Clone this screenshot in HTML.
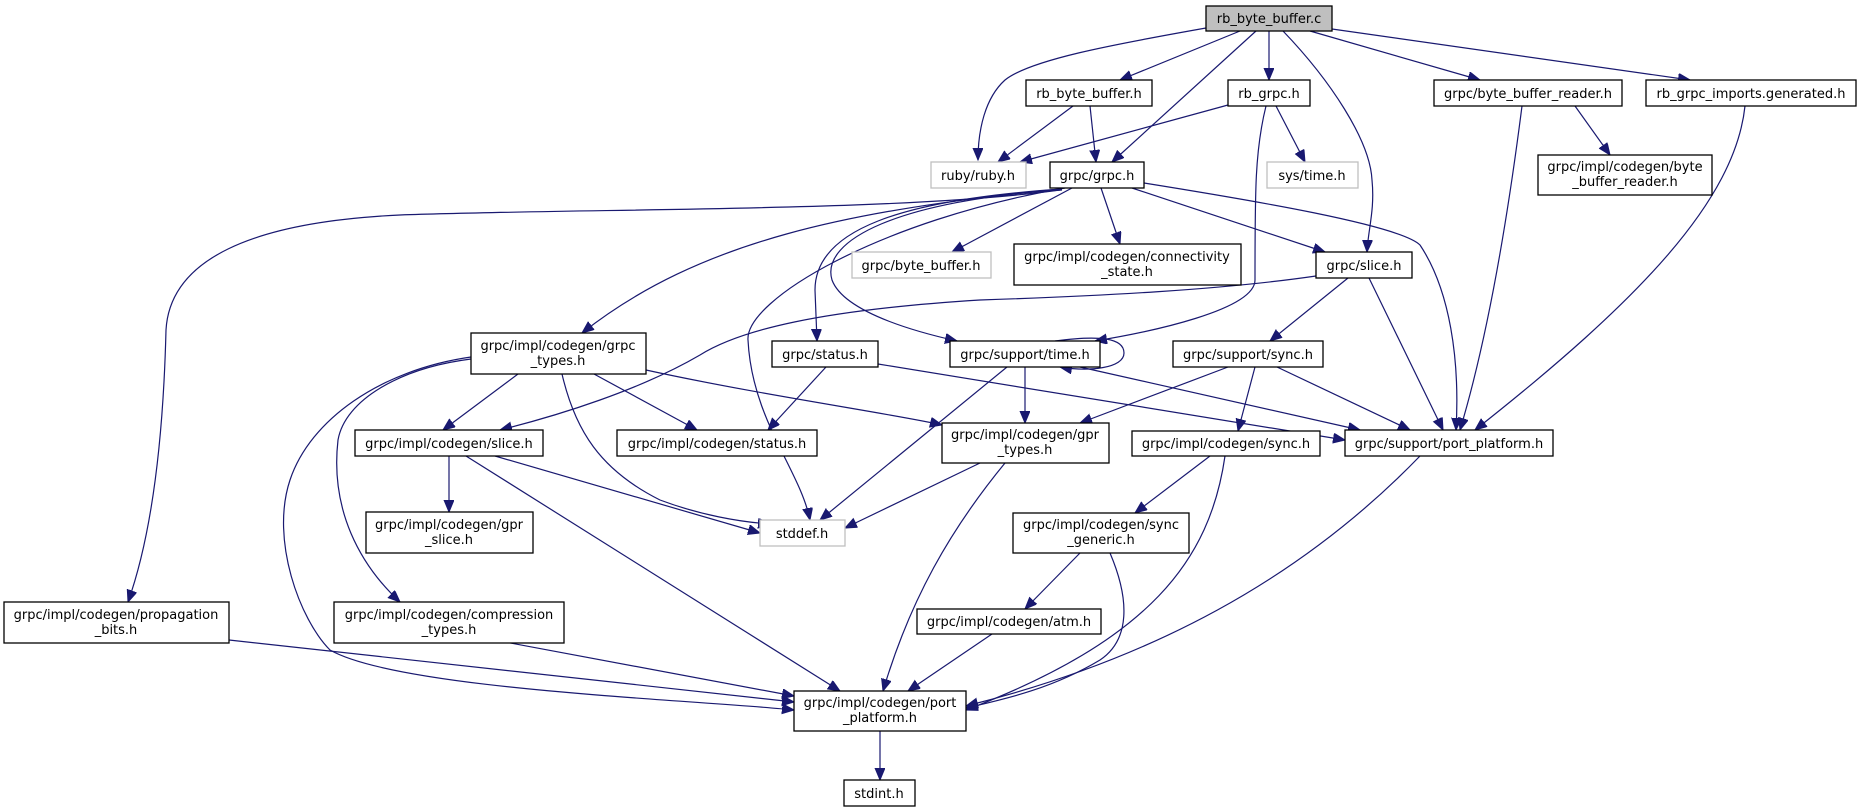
<!DOCTYPE html>
<html><head><meta charset="utf-8"><style>
html,body{margin:0;padding:0;background:#fff;}
svg{display:block;}
text{font-family:"DejaVu Sans","Liberation Sans",sans-serif;font-size:13px;fill:#000;text-anchor:middle;}
.n{fill:#fff;stroke:#000;stroke-width:1.3;}
.g{fill:#fff;stroke:#bfbfbf;stroke-width:1.3;}
.e{fill:none;stroke:#191970;stroke-width:1.2;marker-end:url(#a);}
</style></head><body>
<svg width="1861" height="812" viewBox="0 0 1861 812" xmlns="http://www.w3.org/2000/svg">
<defs><marker id="a" markerUnits="userSpaceOnUse" markerWidth="14" markerHeight="12" refX="12" refY="5" orient="auto"><path d="M0,0 L12,5 L0,10 z" fill="#191970" stroke="#191970"/></marker></defs>
<g>
<path class="e" d="M1206,28 C1110,45 1030,60 1005,80 C985,98 978,130 978,160"/>
<path class="e" d="M1240,31 L1120,80"/>
<path class="e" d="M1256,31 L1112,162"/>
<path class="e" d="M1269,31 L1269,80"/>
<path class="e" d="M1283,31 C1330,80 1370,140 1372,180 C1375,210 1368,230 1367,252"/>
<path class="e" d="M1310,31 L1480,80"/>
<path class="e" d="M1332,29 L1690,80"/>
<path class="e" d="M1073,106 L998,162"/>
<path class="e" d="M1090,106 L1096,162"/>
<path class="e" d="M1228,105 L1020,162"/>
<path class="e" d="M1276,106 L1305,162"/>
<path class="e" d="M1266,106 C1255,150 1255,190 1255,280 C1255,310 1150,332 1095,341"/>
<path class="e" d="M1060,190 C900,212 600,208 400,215 C250,222 170,260 166,330 C163,450 150,540 128,602"/>
<path class="e" d="M1060,189 C850,210 700,240 582,333"/>
<path class="e" d="M1065,188 C880,220 745,300 748,340 C752,420 800,470 810,520"/>
<path class="e" d="M1062,189 C900,200 815,230 815,290 L817,341"/>
<path class="e" d="M1062,190 C900,200 820,240 832,280 C845,315 930,335 957,341"/>
<path class="e" d="M1072,188 L952,252"/>
<path class="e" d="M1101,188 L1120,244"/>
<path class="e" d="M1132,188 L1325,252"/>
<path class="e" d="M1144,183 C1250,200 1400,225 1420,245 C1450,290 1460,360 1456,430"/>
<path class="e" d="M518,374 L443,430"/>
<path class="e" d="M594,374 L697,430"/>
<path class="e" d="M562,374 C575,430 600,470 660,500 C700,515 740,522 770,524"/>
<path class="e" d="M646,370 C760,395 900,415 942,425"/>
<path class="e" d="M471,359 C400,368 345,400 338,440 C330,510 360,565 400,602"/>
<path class="e" d="M471,357 C380,370 310,420 290,480 C270,540 300,620 330,650 C400,690 700,700 794,710"/>
<path class="e" d="M826,367 L768,430"/>
<path class="e" d="M878,364 L1345,440"/>
<path class="e" d="M1007,367 L820,520"/>
<path class="e" d="M1025,367 L1025,423"/>
<path class="e" d="M1080,367 L1360,430"/>
<path class="e" d="M1055,341 C1100,335 1124,338 1124,353 C1124,368 1090,372 1060,367"/>
<path class="e" d="M1316,276 C1220,290 1100,296 980,300 C820,310 740,330 700,355 C640,390 560,415 500,430"/>
<path class="e" d="M1348,278 L1270,341"/>
<path class="e" d="M1369,278 L1443,430"/>
<path class="e" d="M1228,367 L1080,423"/>
<path class="e" d="M1255,367 L1238,431"/>
<path class="e" d="M1277,367 L1410,430"/>
<path class="e" d="M1575,106 L1610,155"/>
<path class="e" d="M1522,106 C1510,200 1490,330 1460,430"/>
<path class="e" d="M1745,106 C1735,200 1640,300 1475,430"/>
<path class="e" d="M449,456 L449,512"/>
<path class="e" d="M495,456 L760,533"/>
<path class="e" d="M466,456 L840,691"/>
<path class="e" d="M980,463 L845,528"/>
<path class="e" d="M1005,463 C950,530 910,600 883,691"/>
<path class="e" d="M1210,456 L1135,513"/>
<path class="e" d="M1225,456 C1210,560 1150,640 966,710"/>
<path class="e" d="M1080,553 L1025,609"/>
<path class="e" d="M1110,553 C1130,600 1130,640 1100,660 C1050,690 1000,700 966,708"/>
<path class="e" d="M992,634 L908,691"/>
<path class="e" d="M1420,456 C1300,580 1150,660 966,706"/>
<path class="e" d="M229,640 L794,702"/>
<path class="e" d="M505,642 L794,696"/>
<path class="e" d="M880,731 L880,780"/>
</g>
<g>
<rect x="1206" y="6" width="126" height="25" fill="#bfbfbf" stroke="#000" stroke-width="1.3"/><text x="1269" y="23">rb_byte_buffer.c</text>
<rect class="n" x="1026" y="80" width="126" height="26"/><text x="1089" y="98">rb_byte_buffer.h</text>
<rect class="n" x="1228" y="80" width="82" height="26"/><text x="1269" y="98">rb_grpc.h</text>
<rect class="n" x="1434" y="80" width="188" height="26"/><text x="1528" y="98">grpc/byte_buffer_reader.h</text>
<rect class="n" x="1646" y="80" width="210" height="26"/><text x="1751" y="98">rb_grpc_imports.generated.h</text>
<rect class="g" x="931" y="162" width="95" height="26"/><text x="978" y="180">ruby/ruby.h</text>
<rect class="n" x="1050" y="162" width="94" height="26"/><text x="1097" y="180">grpc/grpc.h</text>
<rect class="g" x="1267" y="162" width="91" height="26"/><text x="1312" y="180">sys/time.h</text>
<rect class="n" x="1538" y="155" width="174" height="40"/><text x="1625" y="171">grpc/impl/codegen/byte</text><text x="1625" y="186">_buffer_reader.h</text>
<rect class="g" x="852" y="252" width="139" height="26"/><text x="921" y="270">grpc/byte_buffer.h</text>
<rect class="n" x="1014" y="244" width="227" height="41"/><text x="1127" y="261">grpc/impl/codegen/connectivity</text><text x="1127" y="276">_state.h</text>
<rect class="n" x="1316" y="252" width="96" height="26"/><text x="1364" y="270">grpc/slice.h</text>
<rect class="n" x="471" y="333" width="175" height="41"/><text x="558" y="350">grpc/impl/codegen/grpc</text><text x="558" y="365">_types.h</text>
<rect class="n" x="772" y="341" width="106" height="26"/><text x="825" y="359">grpc/status.h</text>
<rect class="n" x="950" y="341" width="150" height="26"/><text x="1025" y="359">grpc/support/time.h</text>
<rect class="n" x="1173" y="341" width="150" height="26"/><text x="1248" y="359">grpc/support/sync.h</text>
<rect class="n" x="355" y="430" width="188" height="26"/><text x="449" y="448">grpc/impl/codegen/slice.h</text>
<rect class="n" x="617" y="430" width="200" height="26"/><text x="717" y="448">grpc/impl/codegen/status.h</text>
<rect class="n" x="942" y="423" width="167" height="40"/><text x="1025" y="439">grpc/impl/codegen/gpr</text><text x="1025" y="454">_types.h</text>
<rect class="n" x="1132" y="431" width="188" height="25"/><text x="1226" y="448">grpc/impl/codegen/sync.h</text>
<rect class="n" x="1345" y="430" width="208" height="26"/><text x="1449" y="448">grpc/support/port_platform.h</text>
<rect class="n" x="366" y="512" width="167" height="41"/><text x="449" y="529">grpc/impl/codegen/gpr</text><text x="449" y="544">_slice.h</text>
<rect class="g" x="760" y="520" width="85" height="26"/><text x="802" y="538">stddef.h</text>
<rect class="n" x="1013" y="513" width="176" height="40"/><text x="1101" y="529">grpc/impl/codegen/sync</text><text x="1101" y="544">_generic.h</text>
<rect class="n" x="4" y="602" width="225" height="41"/><text x="116" y="619">grpc/impl/codegen/propagation</text><text x="116" y="634">_bits.h</text>
<rect class="n" x="334" y="602" width="230" height="41"/><text x="449" y="619">grpc/impl/codegen/compression</text><text x="449" y="634">_types.h</text>
<rect class="n" x="917" y="609" width="184" height="25"/><text x="1009" y="626">grpc/impl/codegen/atm.h</text>
<rect class="n" x="794" y="691" width="172" height="40"/><text x="880" y="707">grpc/impl/codegen/port</text><text x="880" y="722">_platform.h</text>
<rect class="n" x="844" y="780" width="71" height="26"/><text x="879" y="798">stdint.h</text>
</g>
</svg>
</body></html>
